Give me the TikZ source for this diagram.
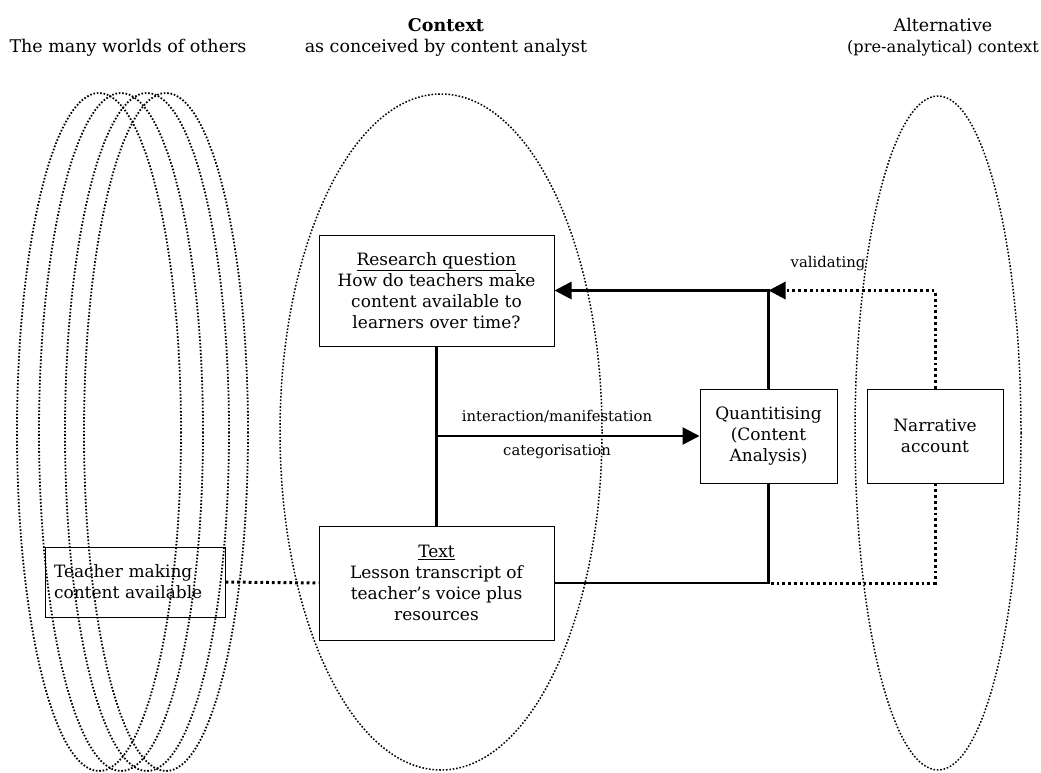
\documentclass[tikz,border=0pt]{standalone}
\usepackage{fontspec}
\setmainfont{DejaVu Serif}
\usetikzlibrary{arrows.meta}
\begin{document}
\begin{tikzpicture}[x=1pt,y=-1pt,
  ell/.style={line width=1.8pt, dash pattern=on 1.6pt off 1.8pt},
  box/.style={draw, line width=1pt, inner sep=0pt, align=center,
    font=\fontsize{17}{21}\selectfont},
  conn/.style={line width=2.8pt},
  dotconn/.style={line width=3pt, dash pattern=on 2.8pt off 3pt},
  tip/.style={-{Triangle[length=17pt,width=17pt]}},
  lbl/.style={font=\fontsize{14.8}{18}\selectfont, inner sep=0pt},
  head/.style={font=\fontsize{17.5}{21}\selectfont, inner sep=0pt}]
\useasboundingbox (0,0) rectangle (1041,772);

% the many worlds of others
\foreach \cx in {99,121,147,166}
  \draw[ell] (\cx,432) ellipse [x radius=82, y radius=339];
% context of the content analyst
\draw[ell, line width=1.5pt] (441,432) ellipse [x radius=161, y radius=338];
% alternative context
\draw[ell, line width=1.5pt] (938,433) ellipse [x radius=83, y radius=337];

% headings
\node[head] (h1) at (128,48) {The many worlds of others};
\node[head, font=\fontsize{17.5}{21}\selectfont\bfseries] (h2) at (446,25) {Context};
\node[head] (h3) at (446,48) {as conceived by content analyst};
\node[head] (h4) at (943,25) {Alternative};
\node[head, font=\fontsize{16.2}{21}\selectfont, anchor=east] (h5) at (1039,48) {(pre-analytical) context};

% boxes
\node[box, minimum width=235pt, minimum height=111pt] (rq) at (436.5,290.5)
  {\underline{Research question}\\How do teachers make\\content available to\\learners over time?};
\node[box, minimum width=235pt, minimum height=114pt] (tx) at (436.5,583)
  {\underline{Text}\\Lesson transcript of\\teacher’s voice plus\\resources};
\node[box, minimum width=137pt, minimum height=94pt] (qa) at (768.5,436)
  {Quantitising\\(Content\\Analysis)};
\node[box, minimum width=136pt, minimum height=94pt] (na) at (935,436)
  {Narrative\\account};
\node[box, align=left, text width=162pt, inner xsep=9pt, minimum height=70pt] (tm) at (135,582)
  {Teacher making\\content available};

% connectors
\coordinate (j) at (rq.south |- qa.west);
\coordinate (v) at (qa.north |- rq.east);
\coordinate (w) at (qa.south |- tx.east);
\draw[conn] (rq.south) -- (tx.north);
\draw[conn, tip] (j) -- (qa.west);
\draw[conn] (tx.east) -| (qa.south);
\draw[conn, tip] (qa.north) |- (rq.east);
\draw[dotconn, tip] (na.north) |- (v);
\draw[dotconn] (na.south) |- (w);
\draw[dotconn] (tm.east) -- (tx.west);

% connector labels
\node[lbl] (l1) at (557,417) {interaction/manifestation};
\node[lbl] (l2) at (557,452) {categorisation};
\node[lbl] (l3) at (828,264) {validating};
\end{tikzpicture}
\end{document}
